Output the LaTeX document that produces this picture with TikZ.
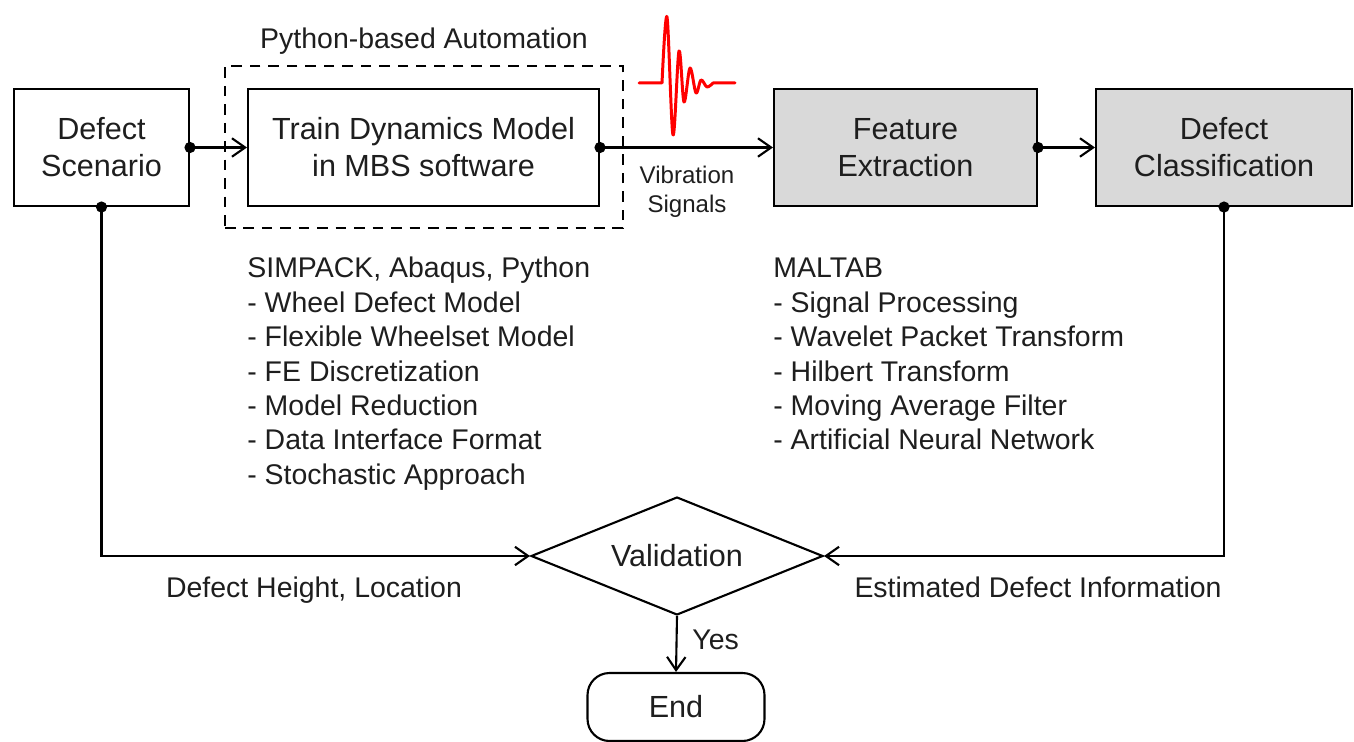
\documentclass[tikz,border=0pt]{standalone}
\usepackage{fontspec}
\setmainfont{Liberation Sans}
\usetikzlibrary{arrows.meta,shapes.geometric}
\definecolor{txt}{HTML}{1E1E1E}
\definecolor{boxgray}{HTML}{D9D9D9}
\tikzset{
  box/.style={draw=black, line width=1.2pt, text=txt, align=center, inner sep=0pt,
    font=\fontsize{17.4}{21}\selectfont},
  graybox/.style={box, fill=boxgray},
  lbl/.style={text=txt, inner sep=0pt, font=\fontsize{16.2}{19.5}\selectfont},
  smalllbl/.style={text=txt, inner sep=0pt, align=center, font=\fontsize{13.7}{16.4}\selectfont},
  conn/.style={draw=black, line width=1.2pt, -{Straight Barb[length=7.5pt,width=10.5pt,line width=1.2pt]}},
  dotr/.style={fill=black},
}
\begin{document}
\begin{tikzpicture}[x=0.02cm,y=-0.02cm]
\useasboundingbox (0,0) rectangle (1354,742);
% boxes
\node[box, minimum width=3.5cm, minimum height=2.34cm] (ds) at (101.5,147.5) {Defect\\Scenario};
\node[box, minimum width=7.02cm, minimum height=2.34cm] (tdm) at (423.5,147.5) {Train Dynamics Model\\in MBS software};
\node[draw=black, line width=1.2pt, dash pattern=on 6pt off 4.5pt, minimum width=7.96cm, minimum height=3.24cm, inner sep=0pt] (auto) at (424,147) {};
\node[graybox, minimum width=5.26cm, minimum height=2.34cm] (fe) at (905.5,147.5) {Feature\\Extraction};
\node[graybox, minimum width=5.12cm, minimum height=2.34cm] (dc) at (1224,147.5) {Defect\\Classification};
\node[box, diamond, aspect=2.47, minimum width=5.84cm, minimum height=2.36cm, font=\fontsize{17.4}{21}\selectfont] (val) at (677,556) {Validation};
\node[box, rounded corners=0.44cm, minimum width=3.54cm, minimum height=1.36cm] (end) at (676,707) {End};
% labels
\node[lbl] (pba) at (424,41) {Python-based Automation};
\node[smalllbl] (vs) at (687,192) {Vibration\\Signals};
\node[lbl, anchor=base] (dhl) at (314,597) {Defect Height, Location};
\node[lbl, anchor=base] (edi) at (1038,597) {Estimated Defect Information};
\node[lbl, anchor=west] (yes) at (692,640) {Yes};
% lists
\foreach \t [count=\i] in {{SIMPACK, Abaqus, Python},{- Wheel Defect Model},{- Flexible Wheelset Model},{- FE Discretization},{- Model Reduction},{- Data Interface Format},{- Stochastic Approach}}
  \node[lbl, anchor=base west] (la\i) at (247,{278+34.4*(\i-1)}) {\t};
\foreach \t [count=\i] in {{MALTAB},{- Signal Processing},{- Wavelet Packet Transform},{- Hilbert Transform},{- Moving Average Filter},{- Artificial Neural Network}}
  \node[lbl, anchor=base west] (lb\i) at (773,{278+34.4*(\i-1)}) {\t};
% connectors
\draw[conn] (ds.east) -- (tdm.west);
\draw[conn] (tdm.east) -- (fe.west);
\draw[conn] (fe.east) -- (dc.west);
\draw[conn] (ds.south) |- (val.west);
\draw[conn] (dc.south) |- (val.east);
\draw[conn] (val.south) -- (end.north);
\fill[dotr] (ds.east) circle (3.2pt);
\fill[dotr] (tdm.east) circle (3.2pt);
\fill[dotr] (fe.east) circle (3.2pt);
\fill[dotr] (ds.south) circle (3.2pt);
\fill[dotr] (dc.south) circle (3.2pt);
% waveform
\coordinate (w0) at (639,83);
\coordinate (w1) at (662,83);
\coordinate (w3) at (735,83);
\draw[red, line width=1.7pt, line join=round, line cap=round] (w0) -- (w1)
  plot[smooth, tension=0.55] coordinates {(662,83) (667,17) (673,135) (679,51) (684,102) (690,68) (696,93) (701,80) (707,87) (713,83)}
  -- (w3);
\end{tikzpicture}
\end{document}
